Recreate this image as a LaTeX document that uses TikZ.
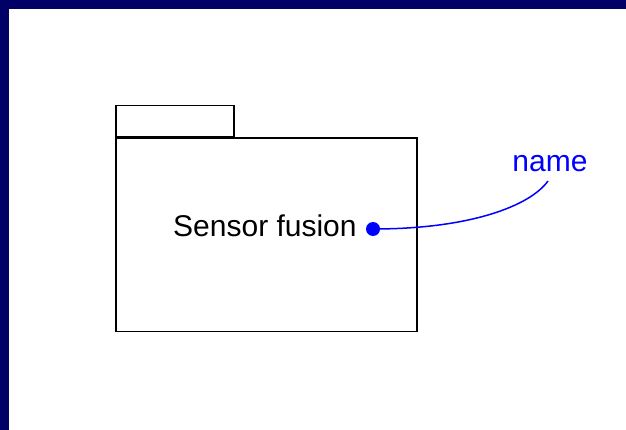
\documentclass[tikz,border=0pt]{standalone}
\usepackage{fontspec}
\setmainfont{Liberation Sans}
\definecolor{navy}{RGB}{0,0,102}
\definecolor{pureblue}{RGB}{0,0,255}
\tikzset{
  pkgline/.style={draw=black, line width=1.5pt},
  lbl/.style={inner sep=0pt, font=\fontsize{30}{36}\selectfont},
  conn/.style={draw=pureblue, line width=1.5pt},
}
\begin{document}
\begin{tikzpicture}[x=1pt,y=-1pt]
\useasboundingbox (0,0) rectangle (626,430);
\fill[navy] (0,0) rectangle (626,430);
\fill[white] (9,9) rectangle (626,430);
% package
\node[pkgline, minimum width=118pt, minimum height=31pt, anchor=south west, inner sep=0pt] (tab) at (115,137.5) {};
\node[pkgline, minimum width=301pt, minimum height=193pt, anchor=north west, inner sep=0pt] (body) at (115,137.5) {};
\node[lbl, anchor=base west] (title) at (173,237) {Sensor fusion};
\node[circle, fill=pureblue, inner sep=0pt, minimum size=14pt] (dot) at (373,229) {};
\node[lbl, text=pureblue, anchor=base] (name) at (550,172) {name};
\coordinate (end) at (548,181);
\draw[conn] (dot.center) .. controls (470,229) and (530,206) .. (end);
\end{tikzpicture}
\end{document}
